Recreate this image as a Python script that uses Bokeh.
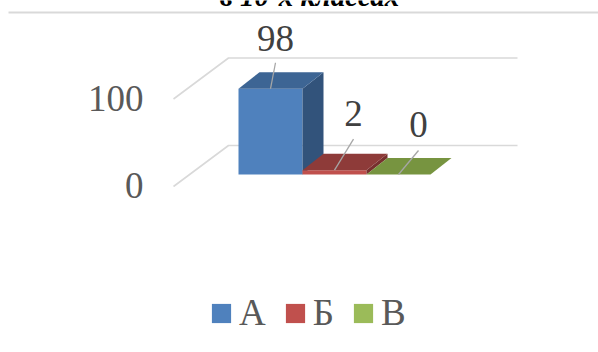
from bokeh.plotting import figure
from bokeh.models import Range1d, Label, Legend, LegendItem
from bokeh.embed import file_html
from bokeh.resources import INLINE
from bokeh.core.properties import value

categories = ["А", "Б", "В"]
values = [98, 2, 0]
y_ticks = [0, 100]
title_text = "в 10-х классах"

front_colors = ["#4f81bd", "#c0504d", "#9bbb59"]
top_colors = ["#3d6594", "#8e3b39", "#779440"]
side_colors = ["#32537b", "#77302e", "#5f7733"]

W, H = 598, 352
PX_X = 64.0
PX_Y = 0.875
X0, Y0 = 238.0, 174.0
SERIF = "Liberation Serif"
FONT_PX = "37px"

p = figure(width=W, height=H, output_backend="svg", toolbar_location=None,
           x_range=Range1d(-X0 / PX_X, (W - X0) / PX_X),
           y_range=Range1d((Y0 - H) / PX_Y, Y0 / PX_Y),
           min_border=0, margin=(0, 0, 0, 0), outline_line_color=None,
           background_fill_color="white", border_fill_color="white")
p.xaxis.visible = False
p.yaxis.visible = False
p.grid.visible = False

DX, DY = 21 / PX_X, 16.5 / PX_Y
WALL_FRONT_X, WALL_BACK_X, GRID_END_X = -65 / PX_X, -10 / PX_X, 279 / PX_X
WALL_FRONT_Y, WALL_BACK_Y = -12 / PX_Y, 29 / PX_Y
TICK_LIFT = 1 / PX_Y
for t in y_ticks:
    p.line([WALL_FRONT_X, WALL_BACK_X, GRID_END_X],
           [t + WALL_FRONT_Y, t + WALL_BACK_Y, t + WALL_BACK_Y],
           line_color="#d9d9d9", line_width=1.6)
    p.text([WALL_FRONT_X - 30 / PX_X], [t + WALL_FRONT_Y + TICK_LIFT], text=[str(t)],
           text_font=value(SERIF), text_font_size=FONT_PX, text_color="#595959",
           text_align="right", text_baseline="middle")

MIN_VISIBLE = 5.0  # a small non-zero bar still shows a plinth in the 3-D view
front_renderers = []
for i, v in enumerate(values):
    h = max(v, MIN_VISIBLE) if v > 0 else 0
    l, r = i, i + 1
    front = p.quad(left=[l], right=[r], bottom=[0], top=[h],
                   fill_color=front_colors[i], line_color=None)
    front_renderers.append(front)
    p.patch([r, r + DX, r + DX, r], [0, DY, h + DY, h],
            fill_color=side_colors[i], line_color=None)
    p.patch([l, r, r + DX, l + DX], [h, h, h + DY, h + DY],
            fill_color=top_colors[i], line_color=None)

label_dx = [5 / PX_X, 19 / PX_X, 20 / PX_X]
label_dy = [26 / PX_Y, 31 / PX_Y, 24 / PX_Y]
label_gap = [24 / PX_Y, 26 / PX_Y, 26 / PX_Y]
for i, v in enumerate(values):
    h = max(v, MIN_VISIBLE) if v > 0 else 0
    cx = i + 0.5
    p.line([cx, cx + label_dx[i]], [h, h + label_dy[i]], line_color="#a6a6a6", line_width=1.3)
    p.text([cx + label_dx[i]], [h + label_dy[i] + label_gap[i]], text=[str(v)],
           text_font=value(SERIF), text_font_size=FONT_PX, text_color="#404040",
           text_align="center", text_baseline="alphabetic")

p.add_layout(Label(x=309, y=H + 5, x_units="screen", y_units="screen", text=title_text,
                   text_font=SERIF, text_font_size="29px", text_font_style="bold italic",
                   text_color="#000000", text_align="center", text_baseline="alphabetic"))
p.line([-X0 / PX_X + 8 / PX_X, (W - X0) / PX_X], [(Y0 - 12) / PX_Y] * 2,
       line_color="#d9d9d9", line_width=2)

legend = Legend(items=[LegendItem(label=c, renderers=[r]) for c, r in zip(categories, front_renderers)],
                orientation="horizontal", location=(209, 18),
                glyph_width=24, glyph_height=24, label_standoff=6, spacing=17, padding=8,
                margin=0, border_line_color=None, background_fill_alpha=0,
                label_text_font=SERIF, label_text_font_size=FONT_PX,
                label_text_color="#595959", label_height=30)
p.add_layout(legend, "center")

open("out.html", "w").write(file_html(p, INLINE))
